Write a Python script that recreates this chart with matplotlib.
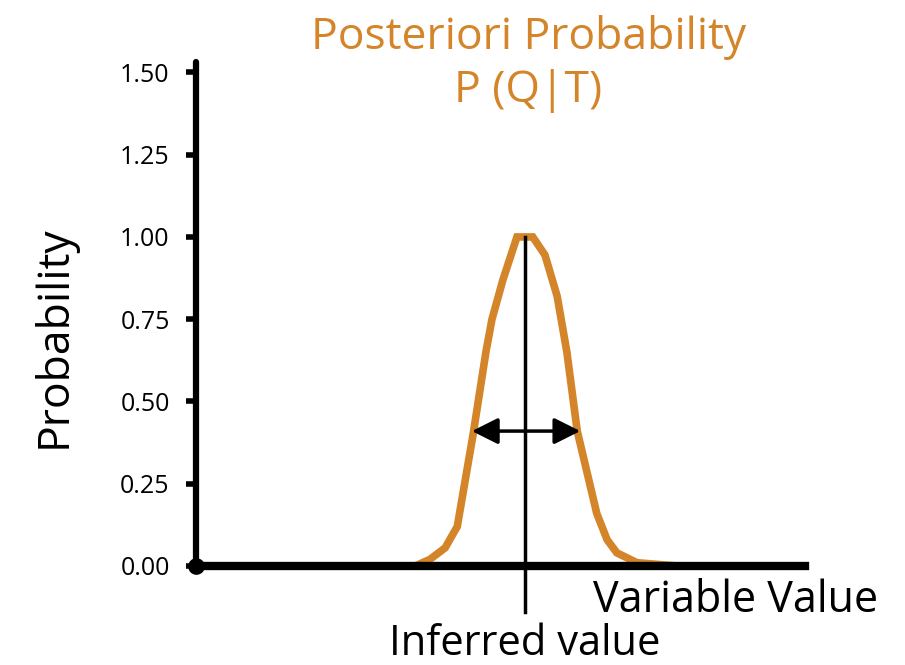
import matplotlib.pyplot as plt
import numpy as np

# posterior curve (x in arbitrary "variable value" units)
x_vals = [2.04, 3.60, 3.84, 4.09, 4.29, 4.55, 4.76, 4.86, 5.04, 5.27,
          5.53, 5.73, 5.93, 6.09, 6.26, 6.58, 6.75, 6.91, 7.24, 7.90]
prob = [0.0, 0.0, 0.02, 0.055, 0.12, 0.40, 0.65, 0.75, 0.87, 1.0,
        1.0, 0.945, 0.82, 0.65, 0.41, 0.16, 0.08, 0.04, 0.01, 0.0]
inferred_x = 5.40
width_lo, width_hi, width_y = 4.53, 6.31, 0.41
y_ticks = [0.0, 0.25, 0.50, 0.75, 1.00, 1.25, 1.50]

orange = '#d4852a'
font = 'Open Sans'
plt.rcParams['font.family'] = [font, 'DejaVu Sans']

fig = plt.figure(figsize=(9.05, 6.65), dpi=100)
ax = fig.add_axes([0.2166, 0.1489, 0.6729, 0.758])

ax.plot(x_vals, prob, color=orange, linewidth=5.5, solid_joinstyle='miter')
ax.plot([inferred_x, inferred_x], [-0.14, 1.0], color='black', linewidth=2.5, clip_on=False)
ax.annotate('', xy=(width_lo, width_y), xytext=(width_hi, width_y),
            arrowprops=dict(arrowstyle='<|-|>', color='black', lw=2.5,
                            mutation_scale=40, shrinkA=0, shrinkB=0))
ax.plot([0], [0], 'o', color='black', markersize=11, clip_on=False, zorder=5)

ax.set_xlim(0, 10)
ax.set_ylim(0, 1.532)
ax.spines['top'].set_visible(False)
ax.spines['right'].set_visible(False)
ax.spines['left'].set_linewidth(4.5)
ax.spines['bottom'].set_linewidth(6)
ax.spines['left'].set_capstyle('round')
ax.set_xticks([])
ax.set_yticks(y_ticks)
ax.set_yticklabels(['%.2f' % v for v in y_ticks])
ax.tick_params(axis='y', length=7, width=4, labelsize=18, pad=12)

ax.set_ylabel('Probability', fontsize=32)
ax.yaxis.set_label_coords(-0.196, 0.454)
fig.text(0.584, 0.978, 'Posteriori Probability\nP (Q|T)', color=orange,
         fontsize=32, ha='center', va='top', linespacing=1.26)
fig.text(0.97, 0.097, 'Variable Value', fontsize=31, ha='right', va='center')
fig.text(0.58, 0.0, 'Inferred value', fontsize=30, ha='center', va='bottom')

plt.savefig('out.png', dpi=100)
plt.close()
